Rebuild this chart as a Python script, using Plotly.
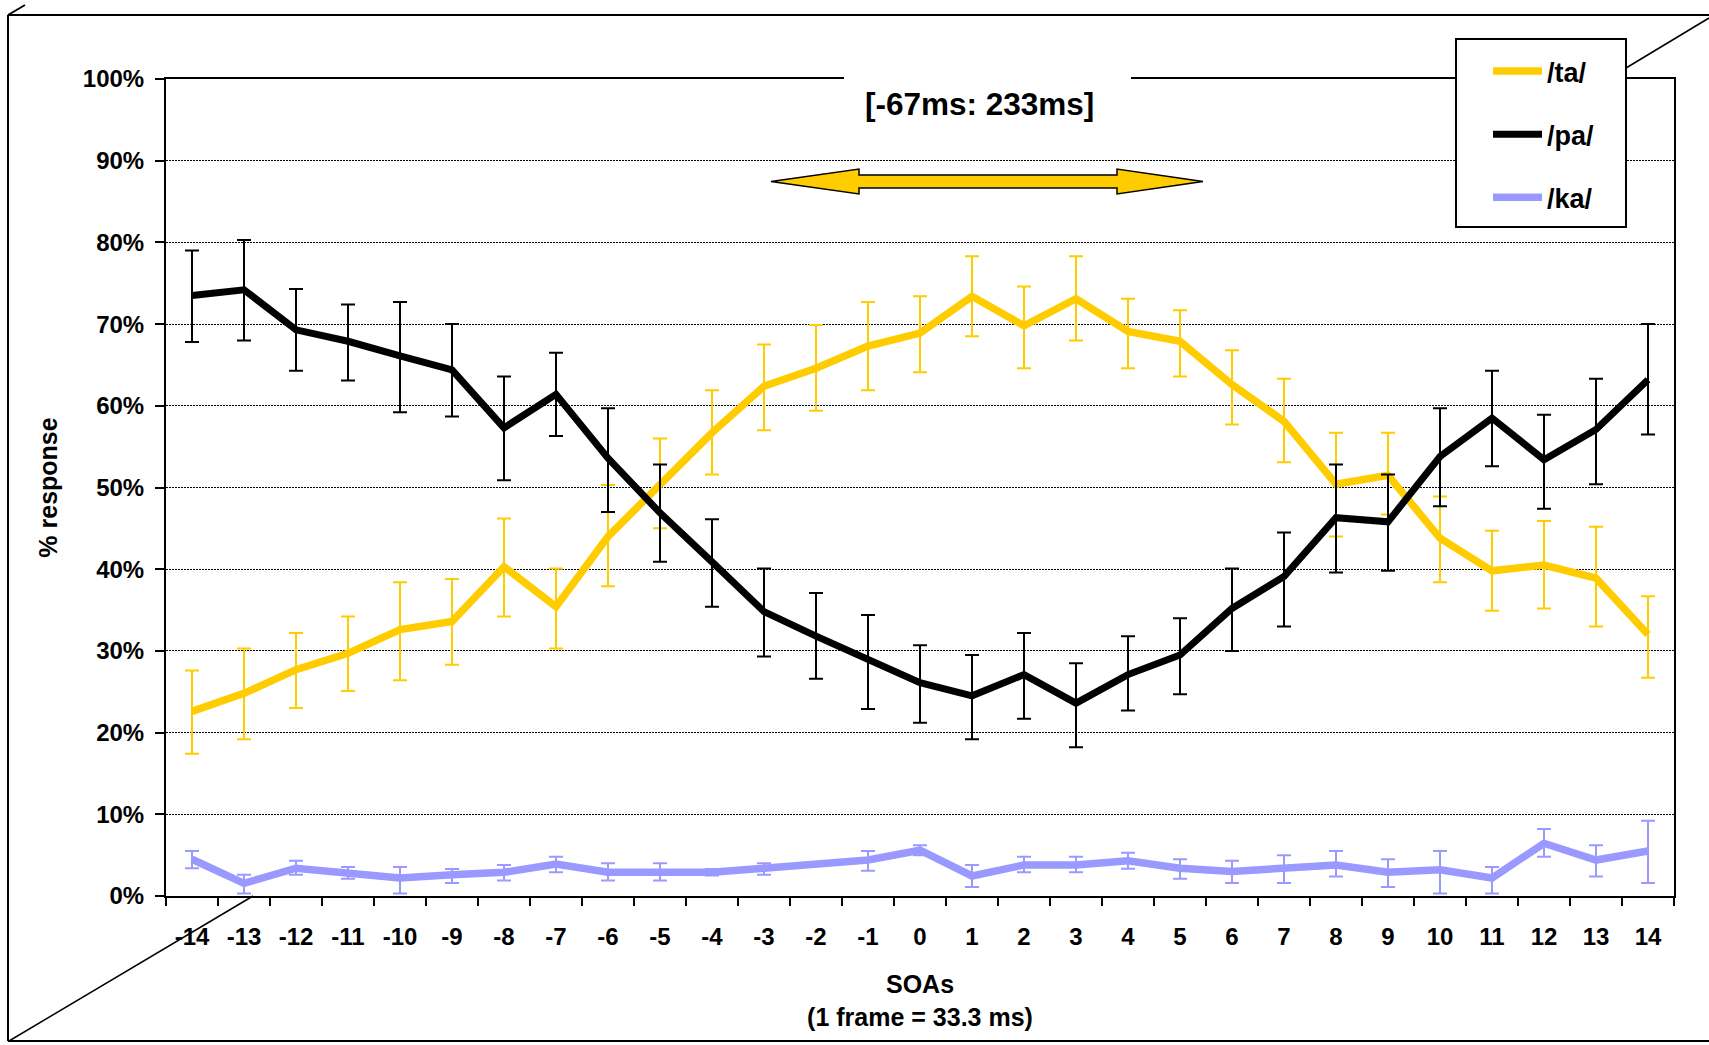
import plotly.graph_objects as go

# ---------------- data ----------------
soa_labels = [str(v) for v in range(-14, 15)]

ta_mean = [22.6, 24.8, 27.7, 29.7, 32.6, 33.6, 40.3, 35.4, 44.0, 50.5, 56.7, 62.4, 64.6, 67.3, 68.9,
           73.4, 69.8, 73.1, 69.1, 67.9, 62.6, 58.1, 50.4, 51.5, 43.8, 39.8, 40.5, 38.9, 32.0]
ta_high = [27.6, 30.3, 32.2, 34.2, 38.4, 38.8, 46.2, 40.1, 50.3, 56.0, 61.9, 67.5, 69.9, 72.7, 73.4,
           78.3, 74.6, 78.3, 73.1, 71.7, 66.8, 63.3, 56.7, 56.7, 48.9, 44.7, 45.9, 45.2, 36.7]
ta_low = [17.4, 19.2, 23.0, 25.1, 26.4, 28.3, 34.2, 30.3, 37.9, 45.0, 51.6, 57.0, 59.4, 61.9, 64.1,
          68.5, 64.6, 68.0, 64.6, 63.6, 57.7, 53.1, 44.0, 46.7, 38.4, 34.9, 35.2, 33.0, 26.7]

pa_mean = [73.5, 74.2, 69.3, 67.9, 66.1, 64.4, 57.3, 61.4, 53.6, 46.9, 40.9, 34.8, 31.8, 28.9, 26.1,
           24.5, 27.1, 23.6, 27.1, 29.5, 35.2, 39.1, 46.3, 45.8, 53.8, 58.5, 53.4, 57.1, 63.2]
pa_high = [79.0, 80.3, 74.3, 72.4, 72.7, 70.0, 63.6, 66.5, 59.7, 52.8, 46.1, 40.1, 37.1, 34.4, 30.7,
           29.5, 32.2, 28.5, 31.8, 34.0, 40.1, 44.5, 52.8, 51.6, 59.7, 64.3, 58.9, 63.3, 70.0]
pa_low = [67.8, 68.0, 64.3, 63.1, 59.2, 58.7, 50.9, 56.3, 47.0, 40.9, 35.4, 29.3, 26.6, 22.9, 21.2,
          19.2, 21.7, 18.2, 22.7, 24.7, 30.0, 33.0, 39.6, 39.8, 47.7, 52.6, 47.4, 50.4, 56.5]

ka_mean = [4.5, 1.55, 3.4, 2.9, 2.2, 2.6, 2.9, 3.9, 2.9, 2.9, 2.9, 3.4, 3.9, 4.4, 5.6,
           2.45, 3.8, 3.8, 4.3, 3.4, 3.0, 3.4, 3.8, 2.9, 3.2, 2.2, 6.45, 4.4, 5.5]
ka_high = [5.5, 2.6, 4.3, 3.55, 3.55, 3.3, 3.8, 4.8, 4.0, 4.0, 3.3, 4.0, 3.9, 5.5, 6.2,
           3.8, 4.8, 4.8, 5.3, 4.5, 4.3, 5.0, 5.5, 4.5, 5.5, 3.55, 8.2, 6.2, 9.2]
ka_low = [3.4, 0.3, 2.6, 2.1, 0.3, 1.6, 1.9, 2.9, 1.9, 1.9, 2.5, 2.6, 3.9, 3.1, 5.0,
          1.1, 2.9, 2.9, 3.35, 2.1, 1.6, 1.6, 2.4, 1.1, 0.3, 0.3, 4.8, 2.4, 1.6]

y_ticks = list(range(0, 101, 10))
y_ticktext = [f"{v}%" for v in y_ticks]

# ---------------- styling ----------------
FONT = "Liberation Sans, Arial, sans-serif"
YELLOW = "#FFCC00"
BLACK = "#000000"
BLUE = "#9999FF"

W, H = 1709, 1045
PL, PR, PT, PB = 166, 1674, 79, 896


def px(x):
    return (x - PL) / (PR - PL)


def py(y):
    return (PB - y) / (PB - PT)


def series(name, mean, high, low, color, lw):
    plus = [round(h - m, 3) for h, m in zip(high, mean)]
    minus = [round(m - l, 3) for m, l in zip(mean, low)]
    return go.Scatter(
        x=soa_labels, y=mean, name=name, mode="lines", legendgroup=name,
        line=dict(color=color, width=lw),
        error_y=dict(type="data", symmetric=False, array=plus, arrayminus=minus,
                     color=color, thickness=2, width=7),
    )


fig = go.Figure()
fig.add_trace(series("/ta/", ta_mean, ta_high, ta_low, YELLOW, 7.5))
fig.add_trace(series("/pa/", pa_mean, pa_high, pa_low, BLACK, 7))
fig.add_trace(series("/ka/", ka_mean, ka_high, ka_low, BLUE, 7.5))

shapes = []


def seg(x0, y0, x1, y1, w=2):
    shapes.append(dict(type="line", xref="paper", yref="paper", x0=px(x0), y0=py(y0),
                       x1=px(x1), y1=py(y1), line=dict(color="black", width=w), layer="above"))


# outer chart frame (with the perspective corner lines)
seg(8, 15, 1709, 15)
seg(8, 15, 8, 1041)
seg(8, 1041, 1709, 1041)
seg(8, 15, 25, 5)
seg(9, 1041, 253, 896, 1.5)
seg(1626, 68, 1709, 18, 1.5)

# white gap in the plot top border behind the title
shapes.append(dict(type="rect", xref="paper", yref="paper", x0=px(844), x1=px(1131),
                   y0=py(85), y1=py(73), fillcolor="white", line=dict(width=0), layer="above"))

# legend box
shapes.append(dict(type="rect", xref="paper", yref="paper", x0=px(1456), x1=px(1626),
                   y0=py(227), y1=py(39), fillcolor="white",
                   line=dict(color="black", width=2), layer="above"))

# double-headed yellow arrow
pts = [(771, 181.5), (859, 169), (859, 175), (1117, 175), (1117, 169), (1203, 181.5),
       (1117, 194), (1117, 188), (859, 188), (859, 194)]
path = "M " + " L ".join(f"{px(a):.5f},{py(b):.5f}" for a, b in pts) + " Z"
shapes.append(dict(type="path", xref="paper", yref="paper", path=path,
                   fillcolor=YELLOW, line=dict(color="black", width=1.5), layer="above"))

annotations = [
    dict(text="[-67ms: 233ms]", xref="paper", yref="paper", x=px(979.5), y=py(104),
         xanchor="center", yanchor="middle", showarrow=False,
         font=dict(family=FONT, size=31.5, color="black", weight="bold")),
]

fig.update_layout(
    width=W, height=H,
    margin=dict(l=PL, r=W - PR, t=PT, b=H - PB, autoexpand=False),
    paper_bgcolor="white", plot_bgcolor="white",
    font=dict(family=FONT, color="black"),
    shapes=shapes, annotations=annotations,
    showlegend=True,
    legend=dict(x=px(1488), y=py(47), xanchor="left", yanchor="top",
                bgcolor="rgba(0,0,0,0)", borderwidth=0, traceorder="grouped",
                tracegroupgap=25, itemwidth=49,
                font=dict(family=FONT, size=27, color="black", weight="bold")),
    xaxis=dict(
        type="category", categoryorder="array", categoryarray=soa_labels,
        range=[-0.5, 28.5], tickson="boundaries",
        ticks="outside", ticklen=8, tickwidth=2, tickcolor="black",
        showline=True, linewidth=2, linecolor="black", mirror=True,
        showgrid=False, zeroline=False, ticklabelstandoff=18,
        tickfont=dict(family=FONT, size=24, color="black", weight="bold"),
        title=dict(text="SOAs<br>(1 frame = 33.3 ms)", standoff=27,
                   font=dict(family=FONT, size=25, color="black", weight="bold")),
    ),
    yaxis=dict(
        range=[0, 100], tickmode="array", tickvals=y_ticks, ticktext=y_ticktext,
        ticks="outside", ticklen=9, tickwidth=2, tickcolor="black",
        showline=True, linewidth=2, linecolor="black", mirror=True,
        showgrid=True, gridcolor="black", gridwidth=1, griddash="2px,1px",
        zeroline=False, ticklabelstandoff=6,
        tickfont=dict(family=FONT, size=24, color="black", weight="bold"),
        title=dict(text="% response", standoff=18,
                   font=dict(family=FONT, size=25, color="black", weight="bold")),
    ),
)

fig.write_html("out.html")
